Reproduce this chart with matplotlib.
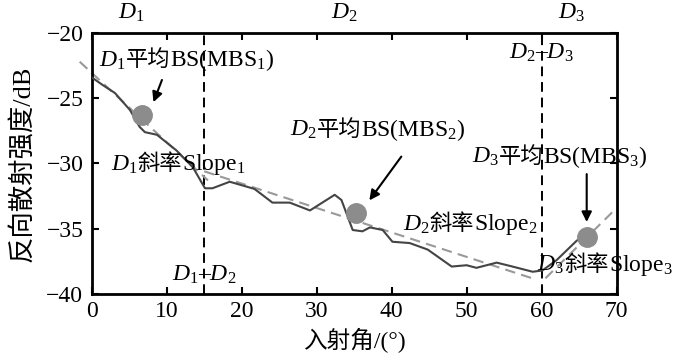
import matplotlib
matplotlib.use("Agg")
import matplotlib.pyplot as plt
from matplotlib.offsetbox import TextArea, HPacker, AnnotationBbox

SERIF = 'Liberation Serif'
plt.rcParams['font.family'] = [SERIF, 'Noto Sans CJK SC']
plt.rcParams['mathtext.fontset'] = 'custom'
plt.rcParams['mathtext.rm'] = SERIF
plt.rcParams['mathtext.it'] = SERIF + ':italic'

# measured backscatter curve
angle = [0, 1.5, 3.1, 5.1, 6.4, 7.1, 8.7, 11.3, 13.5, 15.1, 16.1, 18.4, 21.7,
         24.1, 26.4, 29.1, 32.4, 33.3, 34.8, 36.1, 37.1, 38.8, 40.1, 42.4,
         44.8, 48.0, 50.0, 51.3, 54.0, 56.1, 58.8, 60.1, 62.0, 64.7, 66.0]
bs = [-23.4, -24.0, -24.6, -25.9, -27.2, -27.6, -27.8, -29.0, -30.3, -31.9,
      -31.9, -31.4, -31.95, -33.0, -33.0, -33.6, -32.4, -32.8, -35.1, -35.2,
      -34.9, -35.1, -36.0, -36.1, -36.6, -37.9, -37.8, -38.0, -37.6, -37.9,
      -38.3, -38.2, -37.4, -35.9, -35.6]

# linear fits per segment (endpoints)
fit1_x = [-1.6, 15.5]
fit1_y = [-22.2, -31.3]
fit2_x = [15.0, 59.0]
fit2_y = [-30.6, -38.85]
fit3_x = [60.5, 70.0]
fit3_y = [-38.8, -33.4]

# mean BS points
mbs_x = [6.7, 35.3, 66.0]
mbs_y = [-26.3, -33.8, -35.6]

# segment boundaries
bounds = [15, 60]

xticks = [0, 10, 20, 30, 40, 50, 60, 70]
yticks = [-40, -35, -30, -25, -20]

fig = plt.figure(figsize=(7, 3.55), dpi=100)
ax = fig.add_axes([0.131, 0.172, 0.75, 0.735])

fs = 17
ax.plot(angle, bs, color='#444444', lw=1.5, zorder=3)
for fx, fy in [(fit1_x, fit1_y), (fit2_x, fit2_y), (fit3_x, fit3_y)]:
    ax.plot(fx, fy, color='#999999', lw=1.5, ls=(0, (5, 3)), clip_on=False, zorder=2)
for b in bounds:
    ax.axvline(b, color='black', lw=1.4, ls=(0, (5, 3)), zorder=1)
ax.plot(mbs_x, mbs_y, 'o', color='#8c8c8c', ms=14, zorder=4)

ax.set_xlim(0, 70)
ax.set_ylim(-40, -20)
ax.set_xticks(xticks)
ax.set_yticks(yticks)
ax.tick_params(direction='in', length=5, width=1.5, top=True, right=True,
               labelsize=17)
ax.tick_params(axis='x', pad=5)
ax.tick_params(axis='y', pad=6)
for s in ax.spines.values():
    s.set_linewidth(2)
ax.set_xlabel('入射角/(°)', fontsize=17, labelpad=4)
ax.set_ylabel('反向散射强度/dB', fontsize=19, labelpad=9)

LAT = [SERIF]
CJK = ['Noto Sans CJK SC']


def rich(x, y, parts, ha=0.0):
    kids = []
    for txt, fam in parts:
        size = fs if fam is LAT else 16
        kids.append(TextArea(txt, textprops=dict(fontsize=size, family=fam)))
    pack = HPacker(children=kids, align='baseline', pad=0, sep=0)
    ab = AnnotationBbox(pack, (x, y), xycoords='data', box_alignment=(ha, 0.5),
                        frameon=False, pad=0, annotation_clip=False, zorder=6)
    ax.add_artist(ab)


# region labels above axes
ax.text(5.3, -19.3, '$D_1$', fontsize=fs, ha='center', va='bottom')
ax.text(33.7, -19.3, '$D_2$', fontsize=fs, ha='center', va='bottom')
ax.text(64.0, -19.3, '$D_3$', fontsize=fs, ha='center', va='bottom')

# boundary labels
ax.text(15, -38.5, '$D_1$–$D_2$', fontsize=fs, ha='center', va='center')
ax.text(60, -21.5, '$D_2$–$D_3$', fontsize=fs, ha='center', va='center')

# annotations
rich(1.0, -22.1, [('$D_1$', LAT), ('平均', CJK), ('BS(MBS$_1$)', LAT)])
ax.annotate('', xy=(8.1, -25.5), xytext=(9.5, -23.4),
            arrowprops=dict(arrowstyle='-|>', color='black', lw=1.5, mutation_scale=15))
rich(2.6, -30.1, [('$D_1$', LAT), ('斜率', CJK), ('Slope$_1$', LAT)])

rich(26.4, -27.4, [('$D_2$', LAT), ('平均', CJK), ('BS(MBS$_2$)', LAT)])
ax.annotate('', xy=(36.8, -33.0), xytext=(41.5, -29.3),
            arrowprops=dict(arrowstyle='-|>', color='black', lw=1.5, mutation_scale=15))
rich(41.5, -34.7, [('$D_2$', LAT), ('斜率', CJK), ('Slope$_2$', LAT)])

rich(50.7, -29.5, [('$D_3$', LAT), ('平均', CJK), ('BS(MBS$_3$)', LAT)])
ax.annotate('', xy=(66.0, -34.7), xytext=(66.0, -30.6),
            arrowprops=dict(arrowstyle='-|>', color='black', lw=1.5, mutation_scale=15))
rich(59.4, -37.8, [('$D_3$', LAT), ('斜率', CJK), ('Slope$_3$', LAT)])

fig.savefig('out.png', dpi=100)
